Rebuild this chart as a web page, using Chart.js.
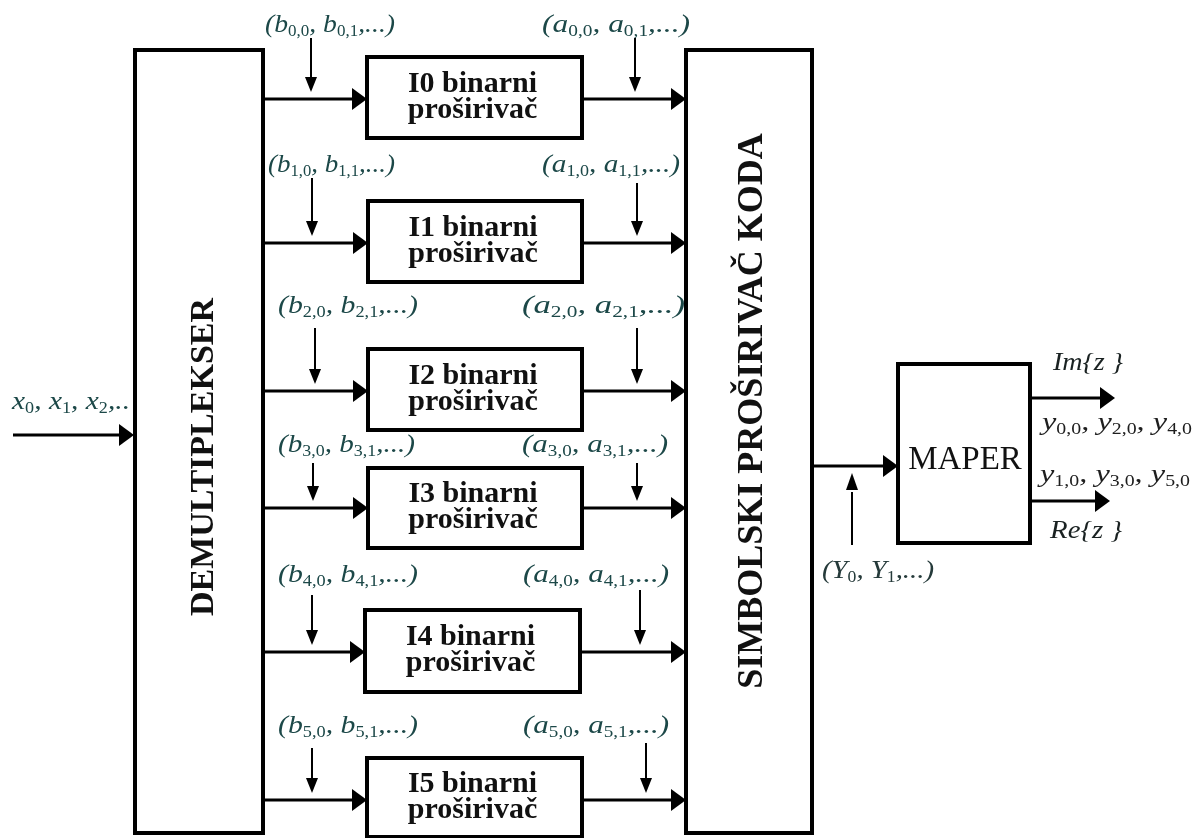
<!DOCTYPE html>
<html><head><meta charset="utf-8">
<script src="https://cdn.jsdelivr.net/npm/chart.js@4"></script>
<style>html,body{margin:0;padding:0;background:#fff;overflow:hidden}#wrap{width:1202px;height:838px;position:relative}</style>
</head><body><div id="wrap"><canvas id="c" width="1202" height="838"></canvas></div>
<script>
// ---------------- DATA (content) ----------------
const stageNames = ['I0 binarni','I1 binarni','I2 binarni','I3 binarni','I4 binarni','I5 binarni'];
const stageSub = 'proširivač';
const bLabels = ['(b_{0,0}, b_{0,1},...)','(b_{1,0}, b_{1,1},...)','(b_{2,0}, b_{2,1},...)','(b_{3,0}, b_{3,1},...)','(b_{4,0}, b_{4,1},...)','(b_{5,0}, b_{5,1},...)'];
const aLabels = ['(a_{0,0}, a_{0,1},...)','(a_{1,0}, a_{1,1},...)','(a_{2,0}, a_{2,1},...)','(a_{3,0}, a_{3,1},...)','(a_{4,0}, a_{4,1},...)','(a_{5,0}, a_{5,1},...)'];
const inputLabel = 'x_{0}, x_{1}, x_{2},..';
const demuxTitle = 'DEMULTIPLEKSER';
const encoderTitle = 'SIMBOLSKI PROŠIRIVAČ KODA';
const mapperTitle = 'MAPER';
const symbolLabel = '(Y_{0}, Y_{1},...)';
const imLabel = 'Im{z }';
const reLabel = 'Re{z }';
const imValues = 'y_{0,0}, y_{2,0}, y_{4,0}';
const reValues = 'y_{1,0}, y_{3,0}, y_{5,0}';

// ---------------- LAYOUT (in scale units) ----------------
const rowY      = [99, 243, 391, 508, 652, 800];
const boxTop    = [57, 201, 349, 468, 610, 758];
const boxBot    = [138, 282, 430, 548, 692, 837];
const boxLeft   = [367, 368, 368, 368, 365, 367];
const boxRight  = [582, 582, 582, 582, 580, 582];
const bArrowX   = [311, 312, 315, 313, 312, 312];
const bArrowTop = [38, 178, 328, 463, 595, 748];
const aArrowX   = [635, 637, 637, 637, 640, 646];
const aArrowTop = [38, 183, 328, 463, 590, 743];
const bLabelX   = [265, 268, 278, 278, 278, 278];
const bLabelW   = [130, 127, 140, 137, 140, 140];
const aLabelX   = [542, 542, 522, 522, 523, 523];
const aLabelW   = [148, 138, 163, 146, 146, 146];
const labelBase = [32, 172, 313, 452, 582, 733];
const demuxBox  = [135, 50, 263, 833];
const encBox    = [686, 50, 812, 833];
const mapBox    = [898, 364, 1030, 543];

// ---------------- build datasets ----------------
const LINE = {showLine:true, borderColor:'#000', pointRadius:0, pointHoverRadius:0, tension:0, fill:false, borderCapStyle:'butt', borderJoinStyle:'miter'};
const datasets = [];
function seg(x1,y1,x2,y2,w){ datasets.push(Object.assign({}, LINE, {borderWidth:w, data:[{x:x1,y:y1},{x:x2,y:y2}]})); }
function rect(b,w){ datasets.push(Object.assign({}, LINE, {borderWidth:w, borderCapStyle:'square', data:[{x:b[0],y:b[1]},{x:b[2],y:b[1]},{x:b[2],y:b[3]},{x:b[0],y:b[3]},{x:b[0],y:b[1]}]})); }
const heads = []; // [tipX, tipY, dir, len, half]
const HL = 15, HW = 11, SL = 15, SW = 6;
rect(demuxBox,4); rect(encBox,4); rect(mapBox,4);
for (let i=0;i<stageNames.length;i++){
  rect([boxLeft[i],boxTop[i],boxRight[i],boxBot[i]],4);
  seg(demuxBox[2], rowY[i], boxLeft[i]-HL+2, rowY[i], 3); heads.push([boxLeft[i], rowY[i], 'r', HL, HW]);
  seg(boxRight[i], rowY[i], encBox[0]-HL+2, rowY[i], 3); heads.push([encBox[0], rowY[i], 'r', HL, HW]);
  seg(bArrowX[i], bArrowTop[i], bArrowX[i], rowY[i]-7-SL+2, 2); heads.push([bArrowX[i], rowY[i]-7, 'd', SL, SW]);
  seg(aArrowX[i], aArrowTop[i], aArrowX[i], rowY[i]-7-SL+2, 2); heads.push([aArrowX[i], rowY[i]-7, 'd', SL, SW]);
}
seg(13, 435, demuxBox[0]-HL+2, 435, 3); heads.push([demuxBox[0]-1, 435, 'r', HL, HW]);
seg(encBox[2], 466, mapBox[0]-HL+2, 466, 3); heads.push([mapBox[0], 466, 'r', HL, HW]);
seg(852, 545, 852, 473+SL+4, 2); heads.push([852, 473, 'u', 17, 6]);
seg(mapBox[2], 398, 1115-HL+2, 398, 3); heads.push([1115, 398, 'r', HL, HW]);
seg(mapBox[2], 501, 1110-HL+2, 501, 3); heads.push([1110, 501, 'r', HL, HW]);

// ---------------- text helpers ----------------
function parseRich(s){
  const out=[]; const re=/_\{([^}]*)\}/g; let last=0, m;
  while((m=re.exec(s))){ if(m.index>last) out.push({t:s.slice(last,m.index),sub:false}); out.push({t:m[1],sub:true}); last=re.lastIndex; }
  if(last<s.length) out.push({t:s.slice(last),sub:false});
  return out;
}
const MAIN_F = 'italic 26px "Liberation Serif", "DejaVu Serif", serif';
const SUB_F  = '16px "Liberation Serif", "DejaVu Serif", serif';
function drawRich(ctx, str, x, y, w, color){
  const parts = parseRich(str);
  let total = 0;
  parts.forEach(p=>{ ctx.font = p.sub?SUB_F:MAIN_F; p.w = ctx.measureText(p.t).width; total += p.w; });
  ctx.save();
  ctx.translate(x, y);
  ctx.scale(w/total, 1);
  ctx.fillStyle = color; ctx.textBaseline='alphabetic'; ctx.textAlign='left';
  let cx = 0;
  parts.forEach(p=>{ ctx.font = p.sub?SUB_F:MAIN_F; ctx.fillText(p.t, cx, p.sub?4:0); cx += p.w; });
  ctx.restore();
}

const diagramPlugin = {
  id:'diagram',
  afterDatasetsDraw(chart){
    const ctx = chart.ctx, sx = chart.scales.x, sy = chart.scales.y;
    const X = v=>sx.getPixelForValue(v), Y = v=>sy.getPixelForValue(v);
    ctx.save();
    // arrowheads
    ctx.fillStyle = '#000';
    heads.forEach(([tx,ty,d,l,h])=>{
      const px = X(tx), py = Y(ty);
      ctx.beginPath();
      if (d==='r'){ ctx.moveTo(px,py); ctx.lineTo(px-l,py-h); ctx.lineTo(px-l,py+h); }
      else if (d==='d'){ ctx.moveTo(px,py); ctx.lineTo(px-h,py-l); ctx.lineTo(px+h,py-l); }
      else { ctx.moveTo(px,py); ctx.lineTo(px-h,py+l); ctx.lineTo(px+h,py+l); }
      ctx.closePath(); ctx.fill();
    });
    // stage box texts
    ctx.fillStyle = '#111'; ctx.textAlign='center'; ctx.textBaseline='alphabetic';
    ctx.font = 'bold 30px "Liberation Serif", "DejaVu Serif", serif';
    stageNames.forEach((n,i)=>{
      const cx = X((boxLeft[i]+boxRight[i])/2 - 2), cy = (boxTop[i]+boxBot[i])/2;
      ctx.fillText(n, cx, Y(cy-6));
      ctx.fillText(stageSub, cx, Y(cy+20));
    });
    // mapper
    ctx.font = '33px "Liberation Serif", "DejaVu Serif", serif';
    ctx.fillText(mapperTitle, X(965), Y(469));
    // vertical titles
    ctx.font = 'bold 34px "Liberation Serif", "DejaVu Serif", serif';
    ctx.save(); ctx.translate(X(213), Y(457)); ctx.rotate(-Math.PI/2); ctx.fillText(demuxTitle, 0, 0); ctx.restore();
    ctx.font = 'bold 36px "Liberation Serif", "DejaVu Serif", serif';
    ctx.save(); ctx.translate(X(762), Y(411)); ctx.rotate(-Math.PI/2); ctx.fillText(encoderTitle, 0, 0); ctx.restore();
    // math labels
    const TEAL = '#1c4848';
    bLabels.forEach((s,i)=> drawRich(ctx, s, X(bLabelX[i]), Y(labelBase[i]), bLabelW[i], TEAL));
    aLabels.forEach((s,i)=> drawRich(ctx, s, X(aLabelX[i]), Y(labelBase[i]), aLabelW[i], TEAL));
    drawRich(ctx, inputLabel, X(12), Y(409), 118, TEAL);
    drawRich(ctx, symbolLabel, X(822), Y(578), 112, '#253a3a');
    drawRich(ctx, imLabel, X(1053), Y(370), 70, '#1a2222');
    drawRich(ctx, imValues, X(1042), Y(430), 150, '#1e1e1e');
    drawRich(ctx, reValues, X(1040), Y(482), 150, '#1e1e1e');
    drawRich(ctx, reLabel, X(1050), Y(538), 72, '#1a2222');
    ctx.restore();
  }
};

new Chart(document.getElementById('c'), {
  type:'scatter',
  data:{datasets},
  options:{
    responsive:false, animation:false, devicePixelRatio:1, events:[],
    layout:{padding:0, autoPadding:false},
    plugins:{legend:{display:false}, tooltip:{enabled:false}},
    scales:{
      x:{type:'linear', min:0, max:1202, display:false},
      y:{type:'linear', min:0, max:838, reverse:true, display:false}
    },
    elements:{line:{tension:0}}
  },
  plugins:[diagramPlugin]
});
</script>
</body></html>
